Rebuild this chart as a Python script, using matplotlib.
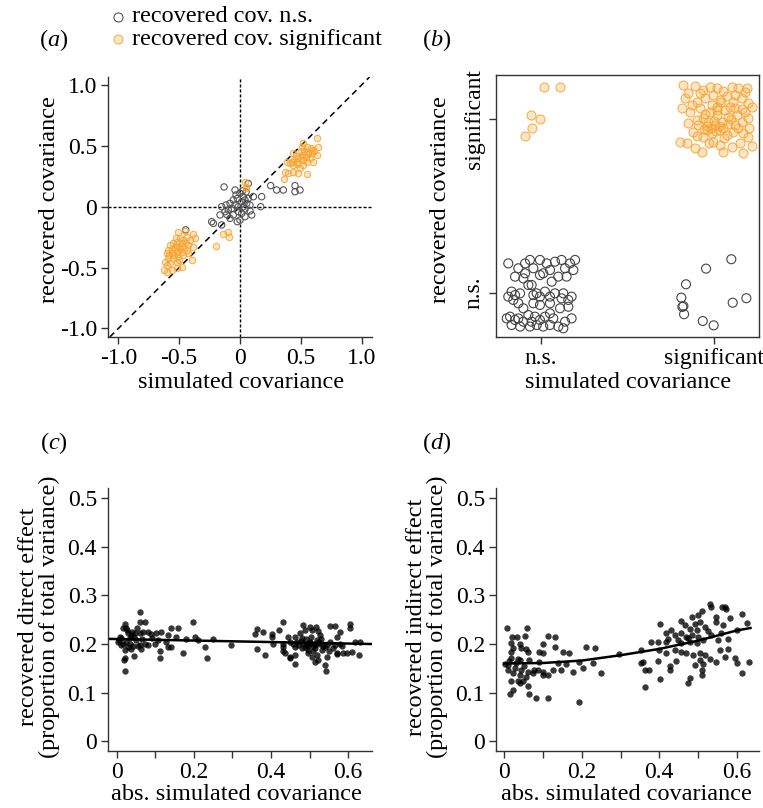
import matplotlib
matplotlib.use("Agg")
import matplotlib.pyplot as plt
from matplotlib.lines import Line2D

plt.rcParams['font.family'] = 'Liberation Serif'
plt.rcParams['mathtext.fontset'] = 'custom'
plt.rcParams['mathtext.rm'] = 'Liberation Serif'
plt.rcParams['mathtext.it'] = 'Liberation Serif:italic'

# ---------------- panel (a): simulated vs recovered covariance ----------------
a_ns_x = [-0.131, -0.033, 0.000, 0.027, -0.022, -0.055, -0.082, 0.014, 0.041, 0.068,
          0.082, 0.110, 0.178, 0.170, -0.041, -0.014, -0.068, -0.096, -0.123, -0.151,
          -0.164, -0.110, -0.055, -0.014, 0.014, 0.041, 0.000, -0.022, 0.082, 0.096,
          -0.233, -0.219, -0.151, -0.082, 0.041, 0.301, 0.356, 0.252, 0.452, 0.452,
          0.493, -0.041, 0.055, -0.115, 0.027, -0.446, 0.068, 0.020, 0.050]
a_ns_y = [0.162, 0.096, 0.110, 0.082, 0.068, 0.055, 0.027, 0.041, 0.055, 0.068,
          0.014, 0.082, 0.082, 0.000, 0.014, 0.000, -0.014, -0.027, -0.041, 0.000,
          -0.068, -0.063, -0.068, -0.041, -0.055, -0.082, -0.110, -0.123, -0.035, -0.068,
          -0.123, -0.137, -0.150, -0.096, -0.019, 0.137, 0.137, 0.173, 0.173, 0.123,
          0.137, 0.137, 0.027, 0.014, 0.000, -0.190, 0.190, 0.130, 0.120]

a_sig_x = [0.630, 0.644, 0.630, 0.589, 0.548, 0.520, 0.575, 0.548, 0.507, 0.479,
           0.438, 0.425, 0.466, 0.411, 0.384, 0.520, 0.493, 0.438, 0.479, 0.548,
           0.397, 0.370, 0.364, 0.507, 0.562, 0.603, 0.438, 0.560, 0.540, 0.590,
           0.500, 0.520, 0.460, 0.580, 0.470, 0.530, 0.500, 0.440, 0.610,
           0.041, 0.052, 0.050, -0.096, -0.137, -0.088, -0.197,
           -0.507, -0.452, -0.384, -0.370, -0.411, -0.438, -0.466, -0.493, -0.521, -0.548,
           -0.575, -0.479, -0.425, -0.384, -0.534, -0.589, -0.603, -0.562, -0.521, -0.479,
           -0.438, -0.466, -0.507, -0.548, -0.589, -0.616, -0.575, -0.521, -0.397, -0.479,
           -0.521, -0.562, -0.603, -0.625, -0.425, -0.500, -0.530, -0.560, -0.490, -0.510,
           -0.540, -0.500, -0.470, -0.450, -0.580, -0.530, -0.600]
a_sig_y = [0.562, 0.493, 0.425, 0.466, 0.493, 0.521, 0.397, 0.370, 0.425, 0.397,
           0.438, 0.370, 0.370, 0.356, 0.364, 0.342, 0.315, 0.288, 0.274, 0.266,
           0.274, 0.282, 0.228, 0.493, 0.430, 0.370, 0.342, 0.450, 0.410, 0.440,
           0.400, 0.380, 0.420, 0.480, 0.350, 0.460, 0.460, 0.380, 0.460,
           0.205, 0.164, 0.151, -0.205, -0.227, -0.246, -0.320,
           -0.205, -0.200, -0.227, -0.260, -0.274, -0.247, -0.274, -0.260, -0.288, -0.301,
           -0.315, -0.301, -0.315, -0.329, -0.342, -0.356, -0.383, -0.383, -0.375, -0.370,
           -0.356, -0.397, -0.411, -0.424, -0.424, -0.452, -0.466, -0.458, -0.438, -0.493,
           -0.507, -0.520, -0.534, -0.520, -0.383, -0.330, -0.320, -0.350, -0.350, -0.360,
           -0.400, -0.440, -0.330, -0.300, -0.400, -0.260, -0.480]

# ---------------- panel (b): significance categories (with jitter) ----------------
b_ns_x = [-0.189, -0.131, -0.092, -0.064, -0.044, -0.006, 0.033, 0.052, 0.081, 0.119,
          0.168, 0.197, 0.187, 0.139, 0.148, 0.100, 0.062, 0.013, -0.006, -0.092,
          -0.102, -0.150, -0.170, -0.189, -0.150, -0.121, -0.073, -0.054, -0.044, -0.025,
          -0.006, 0.023, 0.052, 0.081, 0.129, 0.119, 0.158, 0.177, 0.158, 0.110,
          0.052, -0.006, -0.044, -0.131, -0.160, -0.198, -0.179, -0.150, -0.131, -0.102,
          -0.073, -0.054, -0.035, -0.006, 0.023, 0.052, 0.071, 0.100, 0.139, 0.177,
          -0.170, -0.121, -0.064, -0.025, 0.013, 0.052, 0.129, -0.102,
          1.100, 0.954, 0.838, 0.811, 0.823, 0.817, 0.827, 1.108, 1.187, 0.935, 0.998]
b_ns_y = [0.170, 0.142, 0.170, 0.190, 0.142, 0.190, 0.170, 0.132, 0.180, 0.190,
          0.170, 0.190, 0.132, 0.142, 0.094, 0.094, 0.065, 0.113, 0.103, 0.113,
          0.084, 0.094, 0.008, -0.021, -0.012, -0.002, 0.046, 0.046, -0.012, -0.002,
          -0.021, 0.008, -0.021, -0.002, -0.002, -0.031, -0.040, -0.021, -0.079, -0.088,
          -0.059, -0.069, -0.059, -0.059, -0.040, -0.146, -0.136, -0.155, -0.146, -0.165,
          -0.127, -0.165, -0.136, -0.155, -0.136, -0.117, -0.146, -0.193, -0.165, -0.146,
          -0.184, -0.193, -0.193, -0.184, -0.193, -0.184, -0.203, -0.088,
          0.194, 0.140, 0.050, -0.027, -0.075, -0.080, -0.122, -0.056, -0.030, -0.161, -0.186]

b_sig_x = [0.017, 0.110, -0.058, -0.006, -0.052, -0.092,
           0.823, 0.890, 0.938, 0.977, 1.015, 1.054, 1.102, 1.141, 1.179, 0.832,
           0.900, 0.948, 0.996, 1.035, 1.073, 1.112, 1.160, 1.198, 0.813, 0.861,
           0.919, 0.977, 1.015, 1.064, 1.121, 1.179, 1.218, 0.851, 0.900, 0.938,
           0.967, 1.006, 1.044, 1.083, 1.121, 1.160, 1.198, 0.880, 0.938, 0.986,
           1.035, 1.073, 1.112, 1.169, 1.198, 0.803, 0.842, 0.890, 0.929, 0.996,
           1.035, 1.054, 1.102, 1.150, 1.169, 1.218, 0.958, 0.909, 1.131, 1.015,
           0.960, 0.980, 1.000, 1.030, 1.050, 0.950, 1.080, 1.100, 1.020, 0.990,
           1.120, 0.920, 0.870, 1.140, 1.060, 0.970, 1.190, 1.200, 0.850, 1.090,
           0.940, 1.010, 1.160, 0.900, 1.040]
b_sig_y = [1.184, 1.184, 1.023, 1.000, 0.948, 0.902,
           1.195, 1.191, 1.167, 1.186, 1.176, 1.161, 1.186, 1.176, 1.157, 1.123,
           1.100, 1.119, 1.138, 1.109, 1.134, 1.100, 1.119, 1.090, 1.061, 1.042,
           1.061, 1.042, 1.071, 1.052, 1.061, 1.042, 1.071, 0.975, 0.994, 1.004,
           0.984, 0.966, 0.984, 1.013, 0.966, 0.984, 1.004, 0.927, 0.898, 0.918,
           0.937, 0.908, 0.927, 0.918, 0.898, 0.870, 0.860, 0.832, 0.813, 0.870,
           0.851, 0.813, 0.841, 0.860, 0.803, 0.847, 0.937, 0.966, 1.023, 1.023,
           0.960, 0.950, 0.990, 0.960, 0.950, 1.030, 0.970, 1.000, 1.050, 1.080,
           1.140, 1.150, 1.080, 0.950, 0.890, 0.860, 1.180, 0.950, 1.150, 1.070,
           0.940, 0.930, 1.060, 0.900, 1.100]
b_ticklabels = ["n.s.", "significant"]

# ---------------- panel (c): recovered direct effect ----------------
c_x = [0.061, 0.061, 0.074, 0.020, 0.016, 0.024, 0.053, 0.141, 0.158, 0.198,
       0.029, 0.037, 0.046, 0.059, 0.068, 0.081, 0.089, 0.102, 0.115, 0.132,
       0.154, 0.180, 0.202, 0.210, 0.249, 0.297, 0.011, 0.003, 0.016, 0.024,
       0.033, 0.042, 0.011, 0.029, 0.037, 0.020, 0.059, 0.072, 0.081, 0.063,
       0.098, 0.107, 0.128, 0.132, 0.141, 0.171, 0.228, 0.113, 0.113, 0.234,
       0.044, 0.020, 0.018, 0.022, 0.008, 0.035, 0.050, 0.045, 0.027, 0.066,
       0.092, 0.005, 0.040, 0.055,
       0.432, 0.363, 0.380, 0.358, 0.402, 0.402, 0.421, 0.484, 0.501, 0.517,
       0.488, 0.506, 0.523, 0.553, 0.566, 0.605, 0.605, 0.579, 0.571, 0.527,
       0.475, 0.462, 0.445, 0.406, 0.432, 0.449, 0.467, 0.484, 0.493, 0.501,
       0.514, 0.527, 0.536, 0.553, 0.566, 0.579, 0.618, 0.631, 0.432, 0.462,
       0.480, 0.497, 0.514, 0.532, 0.540, 0.562, 0.363, 0.384, 0.432, 0.436,
       0.449, 0.462, 0.449, 0.497, 0.506, 0.519, 0.545, 0.571, 0.588, 0.610,
       0.627, 0.462, 0.514, 0.523, 0.540, 0.543, 0.571, 0.597, 0.490, 0.505,
       0.520, 0.480, 0.510, 0.495, 0.470, 0.530, 0.550, 0.585, 0.500, 0.515,
       0.488, 0.525, 0.478, 0.508, 0.545, 0.458]
c_y = [0.265, 0.246, 0.246, 0.241, 0.232, 0.232, 0.233, 0.234, 0.234, 0.245,
       0.222, 0.219, 0.222, 0.222, 0.225, 0.224, 0.221, 0.222, 0.225, 0.219,
       0.215, 0.210, 0.214, 0.209, 0.210, 0.198, 0.212, 0.205, 0.201, 0.205,
       0.201, 0.195, 0.198, 0.193, 0.189, 0.188, 0.198, 0.201, 0.198, 0.189,
       0.201, 0.208, 0.205, 0.193, 0.193, 0.181, 0.193, 0.186, 0.171, 0.172,
       0.175, 0.171, 0.167, 0.145, 0.215, 0.212, 0.208, 0.215, 0.228, 0.210,
       0.213, 0.208, 0.225, 0.195,
       0.246, 0.230, 0.225, 0.221, 0.221, 0.215, 0.228, 0.239, 0.236, 0.236,
       0.228, 0.229, 0.226, 0.238, 0.238, 0.241, 0.232, 0.224, 0.215, 0.219,
       0.222, 0.215, 0.215, 0.201, 0.201, 0.205, 0.205, 0.201, 0.198, 0.205,
       0.201, 0.201, 0.196, 0.205, 0.198, 0.201, 0.205, 0.205, 0.193, 0.193,
       0.191, 0.195, 0.191, 0.188, 0.193, 0.191, 0.189, 0.178, 0.186, 0.181,
       0.174, 0.178, 0.171, 0.182, 0.174, 0.178, 0.174, 0.181, 0.182, 0.184,
       0.178, 0.159, 0.164, 0.167, 0.157, 0.145, 0.180, 0.181, 0.210, 0.215,
       0.208, 0.212, 0.196, 0.188, 0.198, 0.210, 0.185, 0.195, 0.203, 0.199,
       0.193, 0.205, 0.207, 0.186, 0.199, 0.200]
c_fit_intercept = 0.2103
c_fit_slope = -0.0155

# ---------------- panel (d): recovered indirect effect ----------------
d_x = [0.007, 0.058, 0.021, 0.033, 0.055, 0.113, 0.132, 0.018, 0.040, 0.100,
       0.022, 0.044, 0.057, 0.091, 0.101, 0.132, 0.151, 0.168, 0.210, 0.234,
       0.297, 0.018, 0.061, 0.018, 0.040, 0.065, 0.091, 0.138, 0.160, 0.194,
       0.229, 0.003, 0.010, 0.010, 0.027, 0.044, 0.061, 0.078, 0.087, 0.100,
       0.126, 0.147, 0.177, 0.203, 0.022, 0.040, 0.057, 0.074, 0.100, 0.113,
       0.250, 0.018, 0.035, 0.040, 0.061, 0.022, 0.015, 0.064, 0.081, 0.113,
       0.194, 0.030, 0.050, 0.035, 0.048, 0.012,
       0.530, 0.534, 0.562, 0.573, 0.569, 0.511, 0.500, 0.483, 0.457, 0.401,
       0.545, 0.545, 0.582, 0.612, 0.625, 0.465, 0.491, 0.504, 0.517, 0.478,
       0.496, 0.526, 0.565, 0.599, 0.431, 0.418, 0.440, 0.423, 0.457, 0.470,
       0.483, 0.500, 0.534, 0.560, 0.577, 0.552, 0.378, 0.397, 0.418, 0.447,
       0.457, 0.478, 0.496, 0.513, 0.475, 0.354, 0.398, 0.418, 0.440, 0.457,
       0.470, 0.488, 0.504, 0.517, 0.556, 0.577, 0.595, 0.354, 0.358, 0.397,
       0.427, 0.444, 0.491, 0.504, 0.513, 0.530, 0.547, 0.569, 0.599, 0.631,
       0.362, 0.374, 0.427, 0.509, 0.509, 0.612, 0.401, 0.478, 0.474, 0.362]
d_y = [0.232, 0.232, 0.214, 0.215, 0.216, 0.217, 0.214, 0.202, 0.200, 0.200,
       0.191, 0.191, 0.189, 0.184, 0.182, 0.193, 0.184, 0.181, 0.193, 0.191,
       0.179, 0.184, 0.184, 0.171, 0.167, 0.167, 0.164, 0.162, 0.159, 0.164,
       0.160, 0.159, 0.157, 0.147, 0.150, 0.147, 0.143, 0.147, 0.147, 0.143,
       0.147, 0.147, 0.143, 0.150, 0.140, 0.136, 0.132, 0.140, 0.136, 0.136,
       0.140, 0.123, 0.125, 0.119, 0.114, 0.105, 0.098, 0.098, 0.088, 0.088,
       0.081, 0.160, 0.155, 0.170, 0.125, 0.165,
       0.283, 0.276, 0.276, 0.272, 0.277, 0.269, 0.260, 0.256, 0.248, 0.241,
       0.256, 0.246, 0.253, 0.262, 0.243, 0.239, 0.241, 0.246, 0.236, 0.230,
       0.229, 0.226, 0.239, 0.229, 0.228, 0.222, 0.219, 0.210, 0.222, 0.215,
       0.219, 0.215, 0.219, 0.223, 0.210, 0.209, 0.205, 0.205, 0.205, 0.209,
       0.202, 0.205, 0.203, 0.209, 0.212, 0.188, 0.187, 0.181, 0.188, 0.184,
       0.181, 0.177, 0.181, 0.177, 0.188, 0.189, 0.171, 0.160, 0.164, 0.166,
       0.154, 0.166, 0.157, 0.167, 0.159, 0.169, 0.164, 0.174, 0.162, 0.164,
       0.147, 0.146, 0.147, 0.147, 0.136, 0.141, 0.128, 0.130, 0.119, 0.111]
d_fit_x = [0.0, 0.1, 0.2, 0.3, 0.4, 0.5, 0.6, 0.635]
d_fit_y = [0.160, 0.161, 0.166, 0.177, 0.190, 0.207, 0.228, 0.233]

W, H = 763, 808
ORANGE_EDGE = (0.97, 0.65, 0.21, 0.85)
ORANGE_FACE = (0.97, 0.65, 0.21, 0.28)
FS = 17.5
TICK_FS = 17


def fx(x):
    return x / W


def fy(y):
    return 1 - y / H


def style_axes(ax, box=False):
    for s in ['top', 'right']:
        ax.spines[s].set_visible(box)
    for s in ax.spines.values():
        s.set_linewidth(1.0)
        s.set_color('#333333')
    ax.tick_params(direction='out', length=5, width=1, labelsize=TICK_FS, pad=3, color='#333333')


fig = plt.figure(figsize=(W / 100, H / 100), dpi=100)

# (a)
ax = fig.add_axes([fx(108), fy(337), fx(264), 260 / H])
ax.axhline(0, color='black', lw=1, ls=(0, (2.2, 1.4)), zorder=1)
ax.axvline(0, color='black', lw=1, ls=(0, (2.2, 1.4)), zorder=1)
ax.axline((0, 0), slope=1, color='black', lw=1.1, ls=(0, (4.0, 2.8)), zorder=1)
ax.scatter(a_ns_x, a_ns_y, s=21, facecolors='none', edgecolors='#555555', linewidths=0.8, zorder=2)
ax.scatter(a_sig_x, a_sig_y, s=21, facecolors=[ORANGE_FACE], edgecolors=[ORANGE_EDGE], linewidths=0.8, zorder=3)
ax.set_xlim(-1.085, 1.085)
ax.set_ylim(-1.07, 1.065)
ax.set_xticks([-1, -0.5, 0, 0.5, 1])
ax.set_xticklabels(['-1.0', '-0.5', '0', '0.5', '1.0'])
ax.set_yticks([-1, -0.5, 0, 0.5, 1])
ax.set_yticklabels(['-1.0', '-0.5', '0', '0.5', '1.0'])
style_axes(ax)

# (b)
ax = fig.add_axes([fx(496), fy(337), fx(263), 262 / H])
ax.scatter(b_ns_x, b_ns_y, s=42, facecolors='none', edgecolors='#444444', linewidths=0.8)
ax.scatter(b_sig_x, b_sig_y, s=42, facecolors=[ORANGE_FACE], edgecolors=[ORANGE_EDGE], linewidths=0.8)
ax.set_xlim(-0.26, 1.26)
ax.set_ylim(-0.253, 1.253)
ax.set_xticks([0, 1])
ax.set_xticklabels(b_ticklabels)
ax.set_yticks([0, 1])
ax.set_yticklabels(b_ticklabels, rotation=90, va='center')
style_axes(ax, box=True)
ax.get_xticklabels()[1].set_x(0.995)

# (c)
ax = fig.add_axes([fx(108), fy(751), fx(264), 263 / H])
ax.scatter(c_x, c_y, s=21, color='black', alpha=0.78, linewidths=0)
ax.axline((0, c_fit_intercept), slope=c_fit_slope, color='black', lw=1.8)
ax.set_xlim(-0.023, 0.662)
ax.set_ylim(-0.02, 0.521)
ax.set_xticks([0, 0.1, 0.2, 0.3, 0.4, 0.5, 0.6])
ax.set_xticklabels(['0', '', '0.2', '', '0.4', '', '0.6'])
ax.set_yticks([0, 0.1, 0.2, 0.3, 0.4, 0.5])
ax.set_yticklabels(['0', '0.1', '0.2', '0.3', '0.4', '0.5'])
style_axes(ax)

# (d)
ax = fig.add_axes([fx(496), fy(751), fx(263), 263 / H])
ax.scatter(d_x, d_y, s=21, color='black', alpha=0.78, linewidths=0)
ax.plot(d_fit_x, d_fit_y, color='black', lw=1.8)
ax.set_xlim(-0.021, 0.657)
ax.set_ylim(-0.02, 0.521)
ax.set_xticks([0, 0.1, 0.2, 0.3, 0.4, 0.5, 0.6])
ax.set_xticklabels(['0', '', '0.2', '', '0.4', '', '0.6'])
ax.set_yticks([0, 0.1, 0.2, 0.3, 0.4, 0.5])
ax.set_yticklabels(['0', '0.1', '0.2', '0.3', '0.4', '0.5'])
style_axes(ax)

# axis labels
fig.text(fx(50), fy(200), 'recovered covariance', rotation=90, ha='center', va='center', fontsize=FS)
fig.text(fx(441), fy(200), 'recovered covariance', rotation=90, ha='center', va='center', fontsize=FS)
fig.text(fx(241), fy(383), 'simulated covariance', ha='center', va='center', fontsize=FS)
fig.text(fx(628), fy(383), 'simulated covariance', ha='center', va='center', fontsize=FS)
fig.text(fx(39), fy(617), 'recovered direct effect\n(proportion of total variance)',
         rotation=90, ha='center', va='center', fontsize=FS, linespacing=0.95)
fig.text(fx(427), fy(617), 'recovered indirect effect\n(proportion of total variance)',
         rotation=90, ha='center', va='center', fontsize=FS, linespacing=0.95)
fig.text(fx(236), fy(795), 'abs. simulated covariance', ha='center', va='center', fontsize=FS)
fig.text(fx(626), fy(795), 'abs. simulated covariance', ha='center', va='center', fontsize=FS)

# panel letters
for lab, x, y in [('a', 54, 40), ('b', 437, 40), ('c', 54, 443), ('d', 437, 443)]:
    fig.text(fx(x), fy(y), '(' + r'$\mathit{' + lab + '}$' + ')', ha='center', va='center', fontsize=FS)

# legend
fig.add_artist(Line2D([fx(118)], [fy(17)], transform=fig.transFigure, marker='o', ls='none',
                      markersize=6.5, markerfacecolor='none', markeredgecolor='#555555', markeredgewidth=0.8))
fig.add_artist(Line2D([fx(118)], [fy(39)], transform=fig.transFigure, marker='o', ls='none',
                      markersize=6.5, markerfacecolor=ORANGE_FACE, markeredgecolor=ORANGE_EDGE, markeredgewidth=0.8))
fig.text(fx(132), fy(17), 'recovered cov. n.s.', ha='left', va='center', fontsize=FS)
fig.text(fx(132), fy(39), 'recovered cov. significant', ha='left', va='center', fontsize=FS)

fig.savefig('out.png', dpi=100)
